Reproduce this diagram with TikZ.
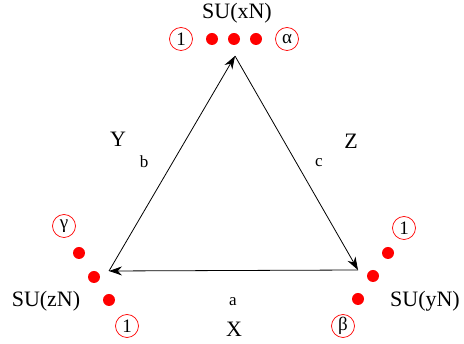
\documentclass[tikz,border=0pt]{standalone}
\usepackage{fontspec}
\setmainfont{Liberation Serif}
\usetikzlibrary{arrows.meta}
\begin{document}
\begin{tikzpicture}[x=1pt,y=-1pt,
  edge/.style={line width=0.8pt,-{Stealth[length=13pt,width=9pt]}},
  dot/.style={circle,fill=red,inner sep=0pt,minimum size=12pt},
  ring/.style={circle,draw=red,line width=0.7pt,inner sep=0pt,minimum size=23pt,font=\fontsize{19}{19}\selectfont},
  big/.style={font=\fontsize{22}{22}\selectfont,inner sep=0pt},
  small/.style={font=\fontsize{17}{17}\selectfont,inner sep=0pt}]
\useasboundingbox (0,0) rectangle (464,344);
\coordinate (T) at (235,56);
\coordinate (L) at (109,271);
\coordinate (R) at (358,270);
\draw[edge] (L) -- (T);
\draw[edge] (T) -- (R);
\draw[edge] (R) -- (L);
% top
\node[big] (sux) at (237,13) {SU(xN)};
\node[ring] (t1) at (181,39) {1};
\node[dot] (td1) at (212,39) {};
\node[dot] (td2) at (234,39) {};
\node[dot] (td3) at (256,39) {};
\node[ring] (ta) at (287,39) {α};
% left
\node[ring] (lg) at (64,226) {γ};
\node[dot] (ld1) at (79,253) {};
\node[dot] (ld2) at (94,277) {};
\node[dot] (ld3) at (109,300) {};
\node[ring] (l1) at (127,326) {1};
\node[big] (suz) at (46,301) {SU(zN)};
% right
\node[ring] (r1) at (404,228) {1};
\node[dot] (rd1) at (388,253) {};
\node[dot] (rd2) at (373,276) {};
\node[dot] (rd3) at (358,299) {};
\node[ring] (rb) at (343,326) {β};
\node[big] (suy) at (425,301) {SU(yN)};
% labels
\node[big] (Y) at (118,139) {Y};
\node[small] (b) at (144,162) {b};
\node[small] (c) at (319,163) {c};
\node[big] (Z) at (351,141) {Z};
\node[small] (a) at (233,302) {a};
\node[big] (X) at (234,329) {X};
\end{tikzpicture}
\end{document}
